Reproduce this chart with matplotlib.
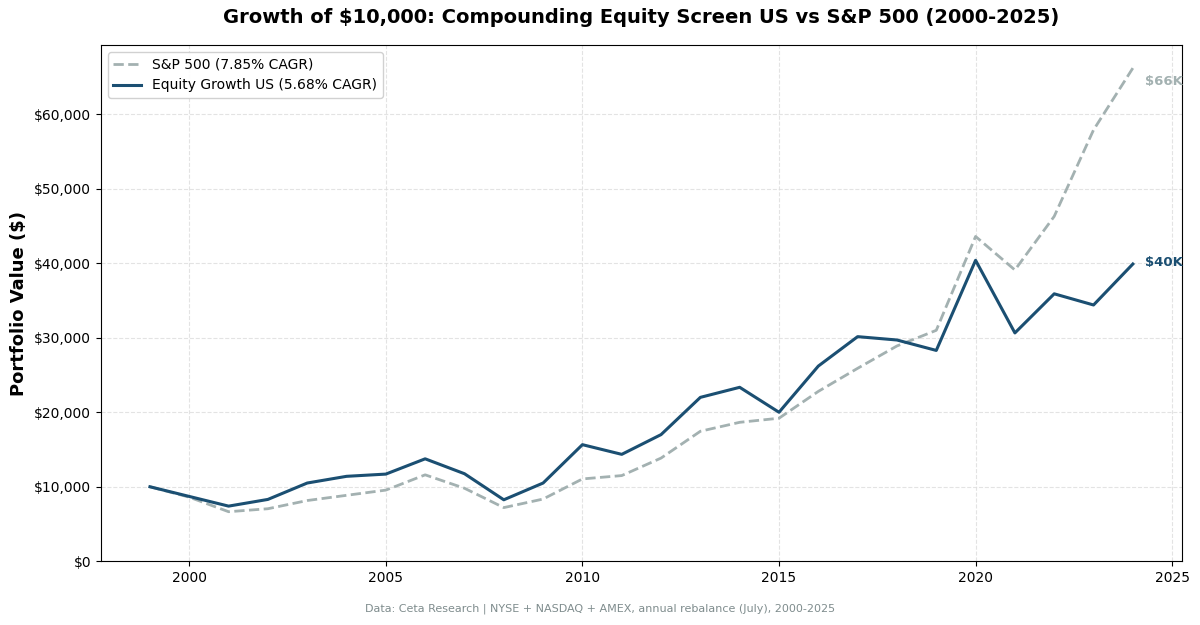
import matplotlib
matplotlib.use('Agg')
import matplotlib.pyplot as plt
from matplotlib.ticker import FuncFormatter

# data
years = list(range(1999, 2025))
equity = [10000, 8700, 7400, 8300, 10500, 11400, 11700, 13750, 11750, 8250,
          10500, 15650, 14350, 17000, 22000, 23350, 20000, 26200, 30150, 29700,
          28300, 40400, 30650, 35900, 34400, 39900]
spx = [10000, 8600, 6650, 7050, 8150, 8850, 9550, 11600, 9800, 7200,
       8350, 11050, 11500, 13850, 17450, 18650, 19200, 22800, 25900, 28900,
       31000, 43600, 39100, 46300, 57900, 66200]

navy = '#1b4f72'
grey = '#a3b1b1'

fig, ax = plt.subplots(figsize=(12, 6.25), dpi=100)
fig.subplots_adjust(left=0.084, right=0.985, top=0.928, bottom=0.102)

ax.plot(years, spx, '--', color=grey, lw=2, label='S&P 500 (7.85% CAGR)')
ax.plot(years, equity, '-', color=navy, lw=2.2, label='Equity Growth US (5.68% CAGR)')

# end labels ($66K sits a bit below the line end)
ax.text(years[-1] + 0.3, spx[-1] - 1800, '$%dK' % round(spx[-1] / 1000), color=grey,
        fontsize=9.5, fontweight='bold', va='center', ha='left')
ax.text(years[-1] + 0.3, equity[-1] + 200, '$%dK' % round(equity[-1] / 1000), color=navy,
        fontsize=9.5, fontweight='bold', va='center', ha='left')

ax.set_ylim(0, 69300)
ax.set_xlim(1997.75, 2025.25)
ax.yaxis.set_major_formatter(FuncFormatter(lambda v, p: '${:,.0f}'.format(v)))
ax.grid(True, ls='--', color='#dddddd', alpha=0.8, lw=0.8)
ax.tick_params(labelsize=10)

ax.set_ylabel('Portfolio Value ($)', fontsize=13, fontweight='bold')
ax.set_title('Growth of $10,000: Compounding Equity Screen US vs S&P 500 (2000-2025)',
             fontsize=14, fontweight='bold', pad=16)
ax.legend(loc='upper left', fontsize=10, framealpha=0.9)

fig.text(0.5, 0.021, 'Data: Ceta Research | NYSE + NASDAQ + AMEX, annual rebalance (July), 2000-2025',
         ha='center', fontsize=8, color='#7f8c8d')

plt.savefig('out.png', dpi=100)
